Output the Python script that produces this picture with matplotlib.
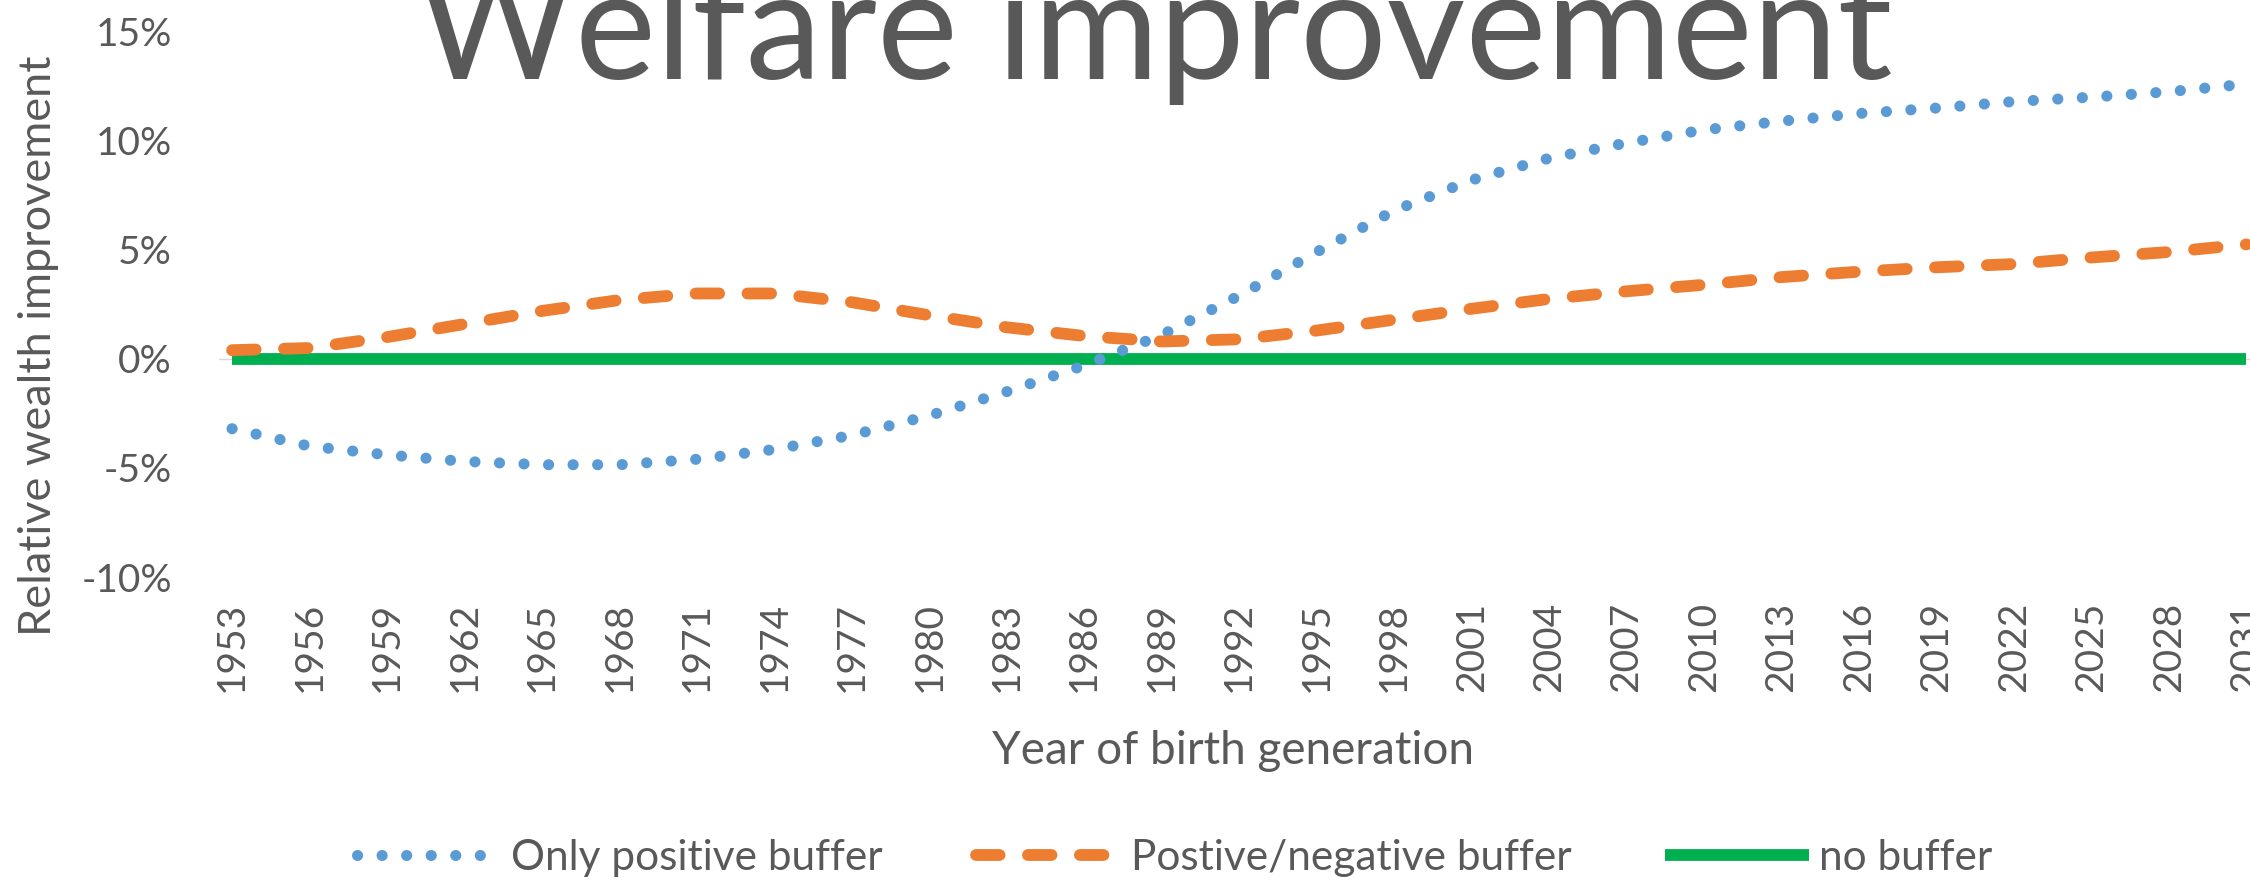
import matplotlib
matplotlib.use("Agg")
import matplotlib.pyplot as plt
import numpy as np

years = list(range(1953, 2032, 3))
only_positive = [-3.2, -4.0, -4.4, -4.7, -4.85, -4.85, -4.6, -4.15, -3.5, -2.6, -1.5, -0.3,
                 1.1, 2.9, 4.9, 6.8, 8.2, 9.2, 9.9, 10.5, 10.9, 11.25, 11.5, 11.8, 12.0, 12.25, 12.6]
pos_neg = [0.4, 0.5, 1.0, 1.6, 2.2, 2.7, 3.0, 3.0, 2.6, 2.0, 1.45, 1.05,
           0.8, 0.9, 1.3, 1.8, 2.3, 2.75, 3.1, 3.4, 3.75, 4.0, 4.2, 4.35, 4.65, 4.9, 5.25]
no_buffer = [0.0] * len(years)
yticks = [-10, -5, 0, 5, 10, 15]
ytick_labels = ["-10%", "-5%", "0%", "5%", "10%", "15%"]
series_names = ["Only positive buffer", "Postive/negative buffer", "no buffer"]
title = "Welfare improvement"
xlabel = "Year of birth generation"
ylabel = "Relative wealth improvement"

plt.rcParams['font.family'] = ['Lato', 'DejaVu Sans']
grey = "#595959"

fig = plt.figure(figsize=(22.5, 8.81), dpi=100)
ax = fig.add_axes([0.0974, 0.345, 0.905, 0.619])

l1, = ax.plot(years, only_positive, color="#5B9BD5", lw=8, linestyle=(0, (0.01, 2.2)),
              dash_capstyle='round', solid_capstyle='round', label=series_names[0], zorder=3)
l2, = ax.plot(years, pos_neg, color="#ED7D31", lw=8.5, linestyle=(0, (2.0, 2.4)),
              dash_capstyle='round', label=series_names[1], zorder=3)
l3, = ax.plot(years, no_buffer, color="#00B050", lw=8.5, solid_capstyle='butt',
              label=series_names[2], zorder=2)

ax.set_xlim(1952.5, 2031.35)
ax.set_ylim(-10, 15)
ax.set_xticks(years)
ax.set_xticklabels([str(y) for y in years], rotation=90, fontsize=28, color=grey)
ax.set_yticks(yticks)
ax.set_yticklabels(ytick_labels, fontsize=28, color=grey)
ax.tick_params(axis='x', length=0, pad=18)
ax.tick_params(axis='y', length=0, pad=34)
for s in ax.spines.values():
    s.set_visible(False)
ax.axhline(0, color="#d9d9d9", lw=1, zorder=1)

fig.text(0.513, 0.910, title, ha='center', va='baseline', fontsize=110, color=grey)
fig.text(0.017, 0.608, ylabel, ha='center', va='center', rotation=90, fontsize=32.5, color=grey)
fig.text(0.548, 0.148, xlabel, ha='center', va='center', fontsize=33, color=grey)

leg = fig.legend(handles=[l1, l2, l3], loc='center', bbox_to_anchor=(0.522, 0.026), ncol=3,
                 frameon=False, fontsize=30.5, handlelength=3.4, handletextpad=0.25,
                 columnspacing=2.2, labelcolor=grey)

fig.savefig("out.png", dpi=100)
